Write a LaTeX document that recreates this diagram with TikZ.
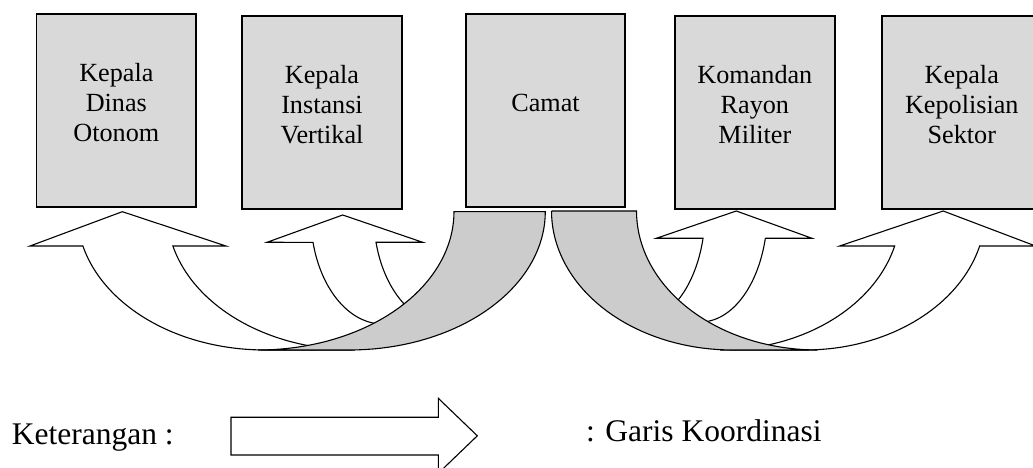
\documentclass[tikz,border=0pt]{standalone}
\usepackage{fontspec}
\setmainfont{Liberation Serif}

\definecolor{boxgray}{RGB}{217,217,217}
\definecolor{bandgray}{RGB}{204,204,204}

\tikzset{
  unit box/.style={draw, line width=1.8bp, fill=boxgray,
    minimum width=159.5bp, minimum height=193bp, inner sep=0pt},
  box text/.style={align=center, inner sep=0pt,
    font=\fontsize{26.2bp}{30.3bp}\selectfont},
  coord arrow/.style={draw, line width=1.1bp, fill=white, line join=miter},
  band/.style={draw, line width=1.1bp, fill=bandgray},
  legend text/.style={font=\fontsize{31.5bp}{36bp}\selectfont,
    inner sep=0pt, anchor=base west},
}

\begin{document}
\begin{tikzpicture}[x=1bp, y=-1bp, samples=40, variable=\t]
\useasboundingbox (0,0) rectangle (1033,468);
\clip (0,0) rectangle (1033,468);

% --- the five offices ---
\node[unit box] (dinas)   at (116.35,110.35) {};
\node[unit box] (instansi) at (322,112.35)   {};
\node[unit box] (camat)   at (545.5,110.35)  {};
\node[unit box] (koramil) at (754.85,112.35) {};
\node[unit box] (polsek)  at (961.8,112.35)  {};

\node[box text] (tdinas)    at ([yshift=7.7bp]dinas.center)    {Kepala\\Dinas\\Otonom};
\node[box text] (tinstansi) at ([yshift=7.7bp]instansi.center) {Kepala\\Instansi\\Vertikal};
\node[box text] (tcamat)    at ([yshift=7.7bp]camat.center)    {Camat};
\node[box text] (tkoramil)  at ([yshift=7.7bp]koramil.center)  {Komandan\\Rayon\\Militer};
\node[box text] (tpolsek)   at ([yshift=7.7bp]polsek.center)   {Kepala\\Kepolisian\\Sektor};

% --- curved coordination arrows, left side ---
\draw[coord arrow] (30,246) -- (122.3,211.7) -- (226,246) -- (173,246)
  -- plot[domain=165.64:90] ({355+188*cos(\t)},{211.7+138.3*sin(\t)})
  -- plot[domain=90:165.64] ({265+188*cos(\t)},{211.7+138.3*sin(\t)})
  -- cycle;
\draw[coord arrow] (267,242.3) -- (342.7,215) -- (422.7,242.3) -- (376,242.3)
  -- plot[domain=165.49:90] ({445.7+72*cos(\t)},{215+109*sin(\t)})
  -- plot[domain=90:165.49] ({382.7+72*cos(\t)},{215+109*sin(\t)})
  -- cycle;

% band leaving the Camat box to the left
\draw[band] (454,211.7) -- (545.3,211.7)
  -- plot[domain=0:90] ({349.3+196*cos(\t)},{211.7+138.3*sin(\t)})
  -- plot[domain=90:0] ({258+196*cos(\t)},{211.7+138.3*sin(\t)})
  -- cycle;

% --- curved coordination arrows, right side ---
\draw[coord arrow] (656.3,238.3) -- (736.3,211) -- (812,238.3) -- (765.3,238.3)
  -- plot[domain=14.24:90] ({700.4+67*cos(\t)},{211+111*sin(\t)})
  -- plot[domain=90:14.24] ({638.1+67*cos(\t)},{211+111*sin(\t)})
  -- cycle;
\draw[coord arrow] (839.6,246) -- (943.2,211) -- (1035.5,246) -- (979.7,246)
  -- plot[domain=14.58:90] ({805+180.5*cos(\t)},{211+139*sin(\t)})
  -- plot[domain=90:14.58] ({720+180.5*cos(\t)},{211+139*sin(\t)})
  -- cycle;

% band leaving the Camat box to the right
\draw[band] (551.5,211) -- (636.5,211)
  -- plot[domain=180:90] ({817.5+181*cos(\t)},{211+139*sin(\t)})
  -- plot[domain=90:180] ({732.5+181*cos(\t)},{211+139*sin(\t)})
  -- cycle;

% --- legend ---
\node[legend text] (ket) at (11.7,444.3) {Keterangan :};
\draw[coord arrow] (231,417.3) -- (438.3,417.3) -- (438.3,398.3) -- (477.3,435.8)
  -- (438.3,473.3) -- (438.3,455) -- (231,455) -- cycle;
\node[legend text] (garis) at (586,441.5) {: Garis Koordinasi};
\end{tikzpicture}
\end{document}
